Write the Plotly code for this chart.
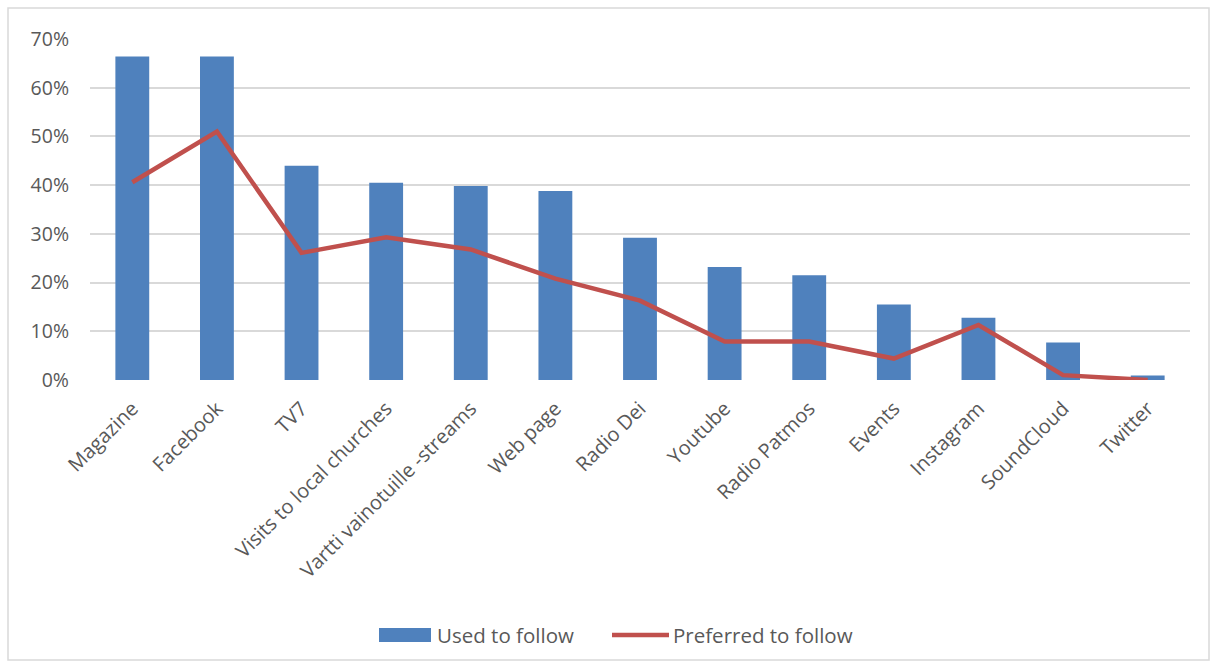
import plotly.graph_objects as go

categories = ["Magazine", "Facebook", "TV7", "Visits to local churches",
              "Vartti vainotuille -streams", "Web page", "Radio Dei", "Youtube",
              "Radio Patmos", "Events", "Instagram", "SoundCloud", "Twitter"]
used_to_follow = [0.664, 0.664, 0.440, 0.405, 0.398, 0.388, 0.292, 0.232,
                  0.215, 0.155, 0.128, 0.077, 0.009]
preferred_to_follow = [0.406, 0.510, 0.261, 0.293, 0.268, 0.208, 0.163, 0.079,
                       0.079, 0.044, 0.113, 0.010, 0.000]
y_ticks = [0, 0.1, 0.2, 0.3, 0.4, 0.5, 0.6, 0.7]
y_tick_labels = ["0%", "10%", "20%", "30%", "40%", "50%", "60%", "70%"]
series_names = ["Used to follow", "Preferred to follow"]

BAR_COLOR = "#4F81BD"
LINE_COLOR = "#C0504D"
TEXT_COLOR = "#595959"

W, H = 1217, 666
ml, mr, mt, mb = 90, 27, 39, 286
pw = W - ml - mr
ph = H - mt - mb

def px_x(x):
    return (x - ml) / pw

def px_y(y):
    return (H - mb - y) / ph

fig = go.Figure()
fig.add_trace(go.Bar(x=categories, y=used_to_follow, name=series_names[0],
                     marker=dict(color=BAR_COLOR, line=dict(width=0)),
                     showlegend=False))
fig.add_trace(go.Scatter(x=categories, y=preferred_to_follow, name=series_names[1],
                         mode="lines", line=dict(color=LINE_COLOR, width=4.5),
                         showlegend=False))

font_fam = "Open Sans, sans-serif"

shapes = [
    dict(type="rect", xref="paper", yref="paper",
         x0=px_x(8), x1=px_x(1209), y0=px_y(660), y1=px_y(8),
         line=dict(color="#D9D9D9", width=1.5), fillcolor="rgba(0,0,0,0)",
         layer="below"),
    # legend swatches
    dict(type="rect", xref="paper", yref="paper",
         x0=px_x(379), x1=px_x(431), y0=px_y(642), y1=px_y(628),
         line=dict(width=0), fillcolor=BAR_COLOR),
    dict(type="line", xref="paper", yref="paper",
         x0=px_x(612), x1=px_x(669), y0=px_y(635), y1=px_y(635),
         line=dict(color=LINE_COLOR, width=4.5)),
]
annotations = [
    dict(text=series_names[0], xref="paper", yref="paper", x=px_x(435), y=px_y(635),
         xanchor="left", yanchor="middle", showarrow=False,
         font=dict(size=20.5, color=TEXT_COLOR, family=font_fam)),
    dict(text=series_names[1], xref="paper", yref="paper", x=px_x(671), y=px_y(635),
         xanchor="left", yanchor="middle", showarrow=False,
         font=dict(size=20.5, color=TEXT_COLOR, family=font_fam)),
]

fig.update_layout(
    width=W, height=H,
    margin=dict(l=ml, r=mr, t=mt, b=mb),
    plot_bgcolor="white", paper_bgcolor="white",
    bargap=0.6,
    font=dict(family=font_fam, color=TEXT_COLOR, size=20),
    xaxis=dict(tickangle=-45, showgrid=False, zeroline=False, showline=False,
               ticks="outside", ticklen=8, tickcolor="rgba(0,0,0,0)",
               tickfont=dict(size=20, color=TEXT_COLOR)),
    yaxis=dict(range=[0, 0.7], tickvals=y_ticks, ticktext=y_tick_labels,
               showgrid=True, gridcolor="#D9D9D9", gridwidth=1.5,
               zeroline=False, showline=False, ticks="",
               ticklabelstandoff=20,
               tickfont=dict(size=19.5, color=TEXT_COLOR)),
    showlegend=False,
    shapes=shapes,
    annotations=annotations,
)

fig.write_html("out.html")
